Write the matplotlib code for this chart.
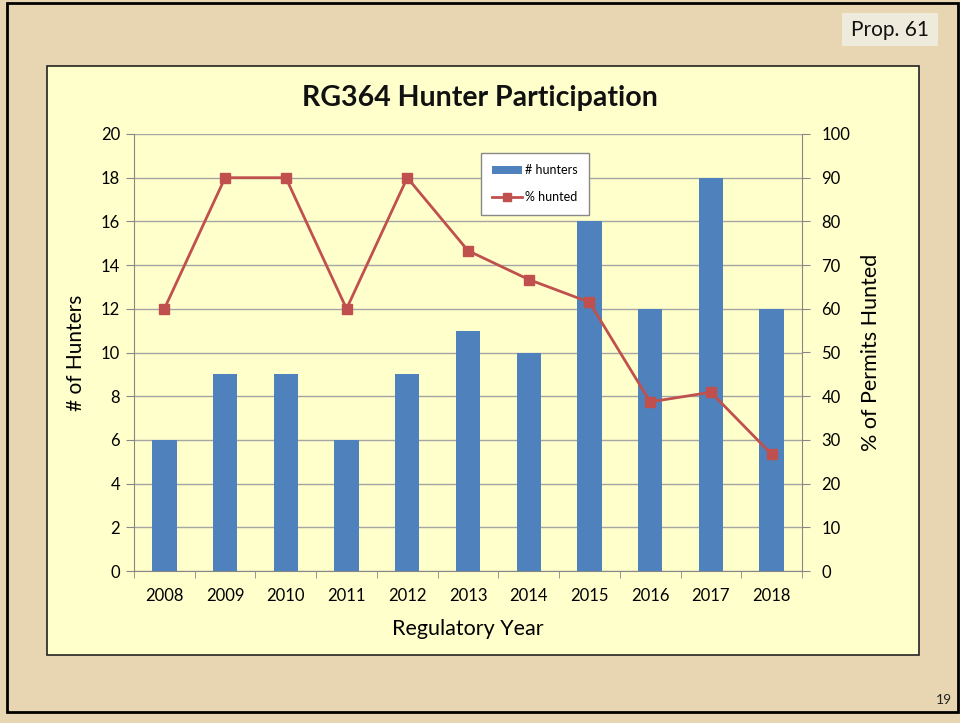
import matplotlib
matplotlib.use("Agg")
import matplotlib.pyplot as plt
from matplotlib.patches import Rectangle, Patch
from matplotlib.lines import Line2D

plt.rcParams['font.family'] = ['Lato', 'DejaVu Sans']

years = ['2008', '2009', '2010', '2011', '2012', '2013', '2014', '2015', '2016', '2017', '2018']
hunters = [6, 9, 9, 6, 9, 11, 10, 16, 12, 18, 12]
pct_hunted = [60.0, 90.0, 90.0, 60.0, 90.0, 73.3, 66.7, 61.5, 38.7, 40.9, 26.7]
left_ticks = list(range(0, 21, 2))
right_ticks = list(range(0, 101, 10))

W, H = 960, 723
fig = plt.figure(figsize=(W / 100, H / 100), dpi=100)
fig.patch.set_facecolor('#E8D6B2')

def fx(x):
    return x / W

def fy(y):
    return 1 - y / H

# slide border
fig.patches.append(Rectangle((fx(7), fy(712)), fx(958) - fx(7), fy(3) - fy(712),
                             transform=fig.transFigure, facecolor='none',
                             edgecolor='black', linewidth=2, zorder=-10))
# chart area
fig.patches.append(Rectangle((fx(47), fy(655)), fx(919) - fx(47), fy(66) - fy(655),
                             transform=fig.transFigure, facecolor='#FFFFCC',
                             edgecolor='#222222', linewidth=1.2, zorder=-10))
# Prop. 61 box
fig.patches.append(Rectangle((fx(842), fy(46)), fx(938) - fx(842), fy(13) - fy(46),
                             transform=fig.transFigure, facecolor='#EEEBDD',
                             edgecolor='none', zorder=-10))
fig.text(fx(890), fy(30), 'Prop. 61', ha='center', va='center', fontsize=15, color='#111111')
fig.text(fx(944), fy(700), '19', ha='center', va='center', fontsize=10, color='#222222')

ax = fig.add_axes([fx(134), fy(571), fx(802) - fx(134), fy(134) - fy(571)])
ax.set_facecolor('none')
x = list(range(len(years)))
ax.bar(x, hunters, width=0.4, color='#4F81BD', zorder=3)
ax.set_xlim(-0.5, len(years) - 0.5)
ax.set_ylim(0, 20)
ax.set_yticks(left_ticks)
ax.set_xticks(x)
ax.set_xticklabels(years)
ax.set_xticks([i - 0.5 for i in range(len(years) + 1)], minor=True)
ax.tick_params(axis='x', which='major', length=0, labelsize=12, pad=12)
ax.tick_params(axis='x', which='minor', length=5, color='#868686', direction='out')
ax.tick_params(axis='y', length=6, color='#868686', labelsize=12, pad=4)
ax.yaxis.grid(True, color='#A5A5A5', linewidth=1, zorder=0)
ax.set_axisbelow(True)
for s in ['top', 'right']:
    ax.spines[s].set_visible(False)
for s in ['left', 'bottom']:
    ax.spines[s].set_color('#868686')
ax.set_xlabel('Regulatory Year', fontsize=15.5, labelpad=11)
ax.set_ylabel('# of Hunters', fontsize=15, labelpad=11)

ax2 = ax.twinx()
ax2.plot(x, pct_hunted, color='#C0504D', linewidth=2, marker='s', markersize=7, zorder=4)
ax2.set_ylim(0, 100)
ax2.set_yticks(right_ticks)
ax2.tick_params(axis='y', length=6, color='#868686', labelsize=12, pad=8)
for s in ['top', 'left', 'bottom']:
    ax2.spines[s].set_visible(False)
ax2.spines['right'].set_color('#868686')
ax2.set_ylabel('% of Permits Hunted', fontsize=15.5, labelpad=8)

fig.text(0.5, fy(98), 'RG364 Hunter Participation', ha='center', va='center',
         fontsize=20.5, fontweight='bold', color='#111111')

handles = [Patch(facecolor='#4F81BD', edgecolor='none'),
           Line2D([], [], color='#C0504D', linewidth=2, marker='s', markersize=6)]
leg = fig.legend(handles, ['# hunters', '% hunted'], loc='upper left',
                 bbox_to_anchor=(fx(481), fy(153)), fontsize=9, frameon=True,
                 fancybox=False, edgecolor='#888888', facecolor='white', framealpha=1,
                 handlelength=2.4, handleheight=0.6, labelspacing=1.2,
                 handletextpad=0.25, borderpad=0.9, borderaxespad=0)
leg.get_frame().set_linewidth(1)

fig.savefig('out.png', dpi=100, facecolor=fig.get_facecolor())
